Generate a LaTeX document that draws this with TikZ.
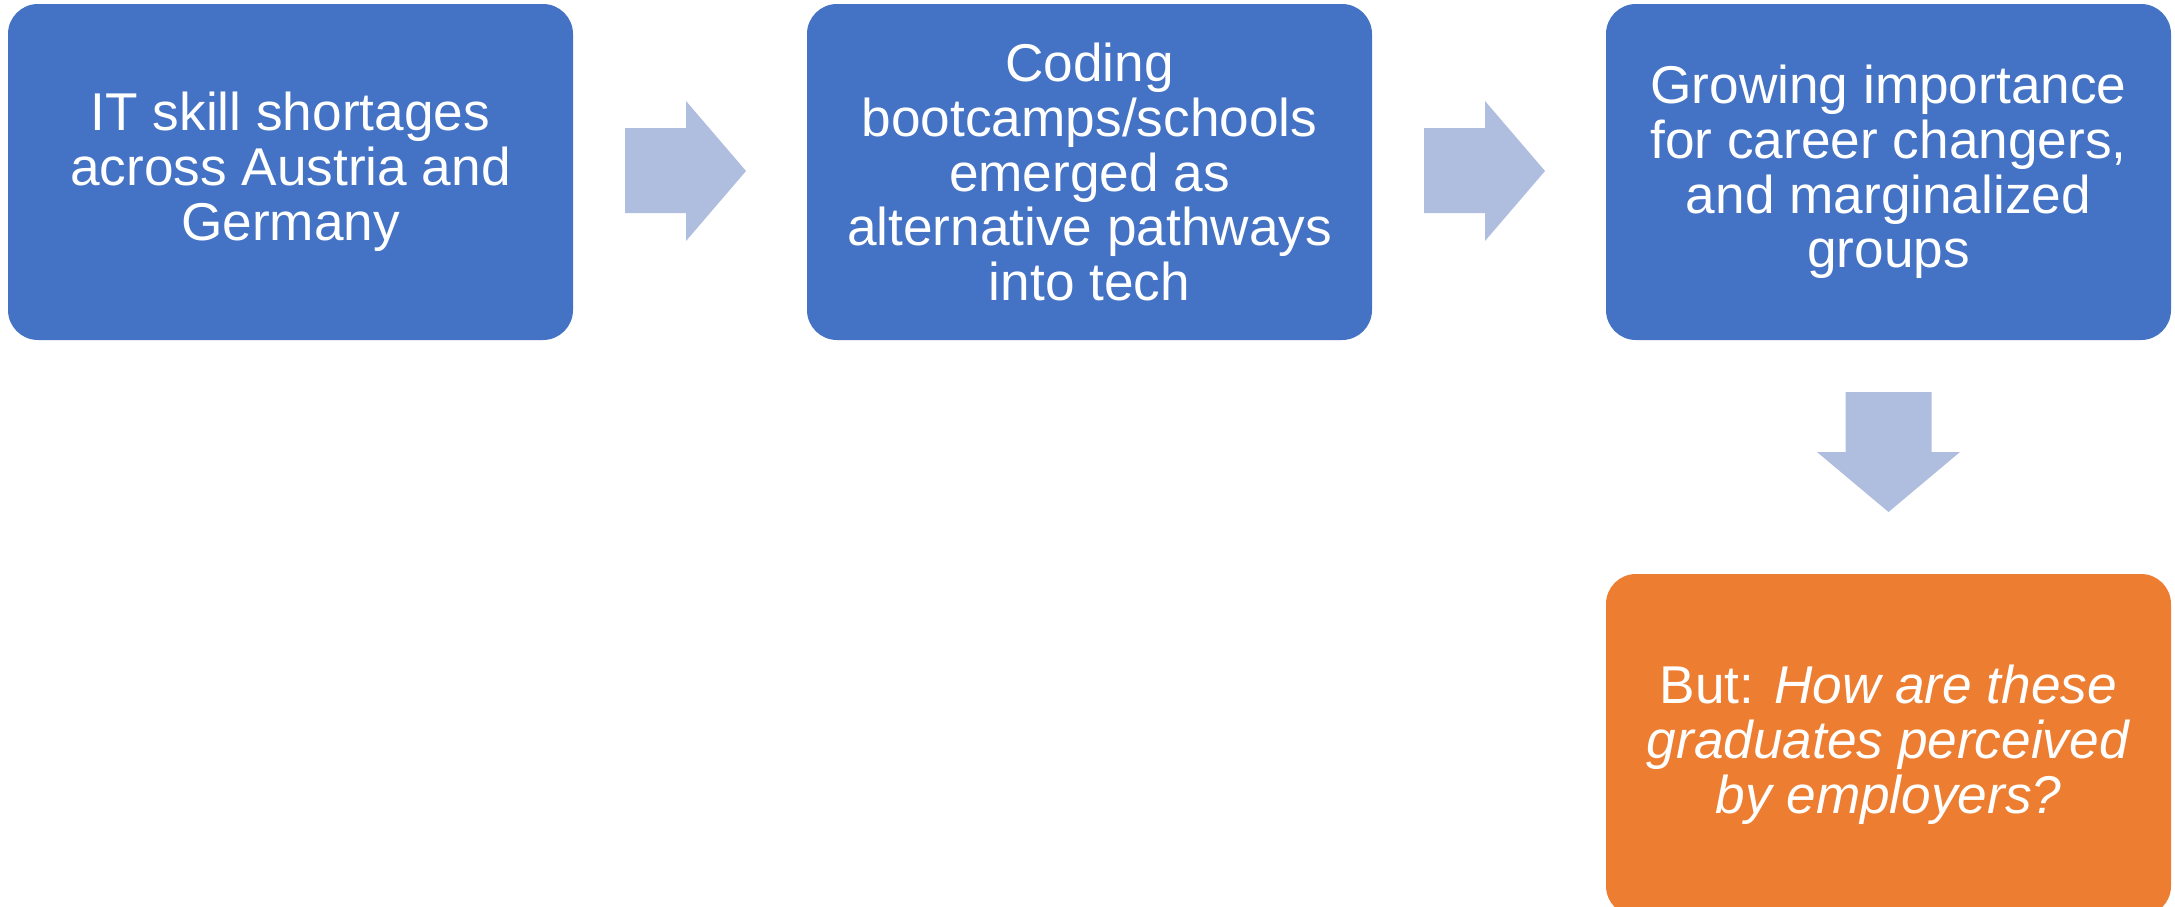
\documentclass[tikz,border=0pt]{standalone}
\usepackage{fontspec}
\setmainfont{Liberation Sans}
\definecolor{boxblue}{RGB}{68,114,196}
\definecolor{boxorange}{RGB}{237,125,49}
\definecolor{arrowblue}{RGB}{175,189,222}
\tikzset{
  stepbox/.style={rounded corners=15pt, minimum width=282.5pt, minimum height=168pt,
    text=white, align=center, inner sep=0pt, font=\fontsize{26.6pt}{27.4pt}\selectfont},
  bluebox/.style={stepbox, fill=boxblue},
  orangebox/.style={stepbox, fill=boxorange},
  blockarrow/.style={fill=arrowblue, draw=none}
}
\begin{document}
\begin{tikzpicture}[x=0.5pt,y=-0.5pt]
\useasboundingbox (0,0) rectangle (2175,906);
\node[bluebox] (b1) at (290.5,172) {IT skill shortages\\across Austria and\\Germany};
\node[bluebox] (b2) at (1089.5,172) {Coding\\bootcamps/schools\\emerged as\\alternative pathways\\into tech};
\node[bluebox] (b3) at (1888.5,172) {Growing importance\\for career changers,\\and marginalized\\groups};
\node[orangebox, minimum height=171pt] (b4) at (1888.5,745) {But: \textit{How are these}\\\textit{graduates perceived}\\\textit{by employers?}};
% right arrows
\fill[blockarrow] (625,128) -- (686,128) -- (686,101) -- (746,171) -- (686,241) -- (686,213) -- (625,213) -- cycle;
\fill[blockarrow] (1424,128) -- (1485,128) -- (1485,101) -- (1545,171) -- (1485,241) -- (1485,213) -- (1424,213) -- cycle;
% down arrow
\fill[blockarrow] (1845.5,392) -- (1931.5,392) -- (1931.5,452) -- (1960,452) -- (1888.5,512) -- (1817,452) -- (1845.5,452) -- cycle;
\end{tikzpicture}
\end{document}
